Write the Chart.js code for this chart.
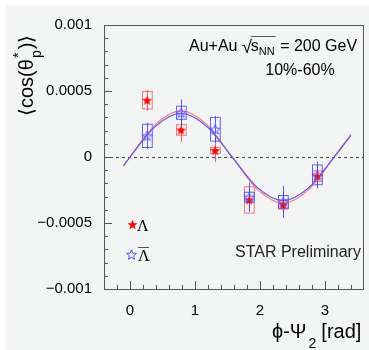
<!DOCTYPE html>
<html>
<head>
<meta charset="utf-8">
<script src="https://cdn.jsdelivr.net/npm/chart.js@4.4.1/dist/chart.umd.min.js"></script>
<style>
  html, body { margin: 0; padding: 0; background: #fff; }
  canvas { display: block; }
</style>
</head>
<body>
<canvas id="c" width="369" height="350"></canvas>
<script>
// phi - Psi2 bin centres [rad]
const phiBins = [0.262, 0.785, 1.309, 1.833, 2.356, 2.880]

// Lambda
const lamVal  = [0.00043, 0.000205, 0.00005, -0.000325, -0.00036, -0.000145]
const lamStat = [0.00008, 0.00009, 0.00009, 0.00009, 0.0001, 0.00009]
const lamSys  = [0.000066, 0.00004, 0.000024, 0.0001, 0.000035, 0.00004]

// anti-Lambda
const alamVal  = [0.00016, 0.000335, 0.00021, -0.000305, -0.00034, -0.000135]
const alamStat = [0.0001, 0.0001, 0.0001, 0.00011, 0.00012, 0.0001]
const alamSys  = [0.000088, 0.00005, 0.00009, 0.000038, 0.000048, 0.000075]

// fit curves
const fitX     = [-0.1, 0, 0.393, 0.785, 1.178, 1.571, 1.963, 2.356, 2.749, 3.142, 3.4]
const fitLam   = [-0.00007, 0, 0.000247, 0.00035, 0.000247, 0, -0.000247, -0.00035, -0.000247, 0, 0.000172]
const fitAlam  = [-0.000065, 0, 0.000233, 0.00033, 0.000233, 0, -0.000233, -0.00033, -0.000233, 0, 0.000163]

// axes
const xTickVals   = [0, 1, 2, 3]
const xTickLabels = ['0', '1', '2', '3']
const yTickVals   = [-0.001, -0.0005, 0, 0.0005, 0.001]
const yTickLabels = ['\u22120.001', '\u22120.0005', '0', '0.0005', '0.001']

const sysHalfWidth = 0.075

function makeStar(fill, stroke) {
    let c = document.createElement('canvas')
    c.width = 13
    c.height = 13
    let g = c.getContext('2d')
    g.beginPath()
    for (let i = 0; i < 10; i++) {
        let r = i % 2 ? 2.2 : 5.3
        let a = -Math.PI / 2 + i * Math.PI / 5
        let px = 6.5 + r * Math.cos(a), py = 7 + r * Math.sin(a)
        if (i) g.lineTo(px, py)
        else g.moveTo(px, py)
    }
    g.closePath()
    if (fill) { g.fillStyle = fill; g.fill() }
    if (stroke) { g.strokeStyle = stroke; g.lineWidth = 1; g.stroke() }
    return c
}

const redStar = makeStar('#f00', null)
const blueStar = makeStar(null, '#55f')

const FONT = "'Liberation Sans', Arial, sans-serif"

const decor = {
    id: 'decor',
    beforeDraw(chart) {
        const ctx = chart.ctx
        ctx.save()
        ctx.fillStyle = '#fff'
        ctx.fillRect(0, 0, 369, 350)
        ctx.fillStyle = '#f3f5f5'
        ctx.fillRect(5, 5, 364, 345)
        ctx.restore()
    },
    beforeDatasetsDraw(chart) {
        const ctx = chart.ctx
        const xs = chart.scales.x, ys = chart.scales.y
        const a = chart.chartArea
        ctx.save()
        // zero line
        ctx.strokeStyle = '#444'
        ctx.lineWidth = 1
        ctx.setLineDash([3, 3])
        ctx.beginPath()
        ctx.moveTo(a.left, Math.round(ys.getPixelForValue(0)) + 0.5)
        ctx.lineTo(a.right, Math.round(ys.getPixelForValue(0)) + 0.5)
        ctx.stroke()
        ctx.setLineDash([])

        function drawSet(vals, stat, sys, boxCol, barCol) {
            for (let i = 0; i < phiBins.length; i++) {
                let x1 = xs.getPixelForValue(phiBins[i] - sysHalfWidth)
                let x2 = xs.getPixelForValue(phiBins[i] + sysHalfWidth)
                let y1 = ys.getPixelForValue(vals[i] + sys[i])
                let y2 = ys.getPixelForValue(vals[i] - sys[i])
                ctx.strokeStyle = boxCol
                ctx.lineWidth = 1
                ctx.strokeRect(Math.round(x1) + 0.5, y1, x2 - x1, y2 - y1)
                let xc = Math.round(xs.getPixelForValue(phiBins[i])) + 0.5
                ctx.strokeStyle = barCol
                ctx.beginPath()
                ctx.moveTo(xc, ys.getPixelForValue(vals[i] + stat[i]))
                ctx.lineTo(xc, ys.getPixelForValue(vals[i] - stat[i]))
                ctx.stroke()
            }
        }
        drawSet(lamVal, lamStat, lamSys, 'rgba(240,90,90,0.8)', 'rgba(240,60,60,0.8)')
        drawSet(alamVal, alamStat, alamSys, 'rgba(70,70,255,0.85)', 'rgba(60,60,255,0.85)')
        ctx.restore()
    },
    afterDraw(chart) {
        const ctx = chart.ctx
        const xs = chart.scales.x, ys = chart.scales.y
        const a = chart.chartArea
        ctx.save()
        // frame
        ctx.strokeStyle = '#555'
        ctx.lineWidth = 1
        ctx.strokeRect(a.left + 0.5, a.top + 0.5, a.right - a.left - 1, a.bottom - a.top)
        // y ticks
        ctx.beginPath()
        for (let k = -10; k <= 10; k++) {
            let y = Math.round(ys.getPixelForValue(k * 0.0001)) + 0.5
            let len = k % 5 === 0 ? 8 : 4
            ctx.moveTo(a.left, y)
            ctx.lineTo(a.left + len, y)
        }
        // x ticks
        for (let k = -2; k <= 17; k++) {
            let x = Math.round(xs.getPixelForValue(k * 0.2)) + 0.5
            let len = k % 5 === 0 ? 8 : 4
            ctx.moveTo(x, a.bottom)
            ctx.lineTo(x, a.bottom - len)
        }
        ctx.stroke()

        ctx.fillStyle = '#000'
        ctx.textBaseline = 'alphabetic'
        ctx.textAlign = 'left'

        // y title
        ctx.save()
        ctx.translate(33, 116)
        ctx.rotate(-Math.PI / 2)
        ctx.font = '20px ' + FONT
        let px = 0
        ctx.fillText('\u27E8cos(\u03B8', px, 0)
        px += ctx.measureText('\u27E8cos(\u03B8').width
        ctx.font = '14px ' + FONT
        ctx.fillText('p', px + 1, 8)
        ctx.fillText('*', px + 1, -10)
        px += ctx.measureText('p').width + 2
        ctx.font = '20px ' + FONT
        ctx.fillText(')\u27E9', px, 0)
        ctx.restore()

        // x title
        ctx.font = '20px ' + FONT
        let tx = 272
        ctx.fillText('\u03D5-\u03A8', tx, 338)
        tx += ctx.measureText('\u03D5-\u03A8').width + 2
        ctx.font = '14px ' + FONT
        ctx.fillText('2', tx, 348)
        tx += ctx.measureText('2').width + 5
        ctx.font = '20px ' + FONT
        ctx.fillText('[rad]', tx, 338)

        // energy label
        ctx.font = '16px ' + FONT
        tx = 189
        ctx.fillText('Au+Au', tx, 51)
        tx += ctx.measureText('Au+Au ').width
        ctx.font = '18px ' + FONT
        ctx.fillText('\u221A', tx, 53)
        tx += ctx.measureText('\u221A').width - 1
        let ovStart = tx
        ctx.font = '16px ' + FONT
        ctx.fillText('s', tx, 51)
        tx += ctx.measureText('s').width
        ctx.font = '11px ' + FONT
        ctx.fillText('NN', tx, 55)
        tx += ctx.measureText('NN').width + 1
        ctx.beginPath()
        ctx.moveTo(ovStart, 36.5)
        ctx.lineTo(tx, 36.5)
        ctx.stroke()
        ctx.font = '16px ' + FONT
        ctx.fillText(' = 200 GeV', tx, 51)

        ctx.textAlign = 'center'
        ctx.fillText('10%-60%', 300, 75)
        ctx.textAlign = 'left'
        ctx.fillStyle = '#222'
        ctx.fillText('STAR Preliminary', 235, 257)

        // legend
        ctx.fillStyle = '#000'
        ctx.drawImage(redStar, 126, 218)
        ctx.drawImage(blueStar, 125, 248)
        ctx.font = "16px 'Liberation Serif', serif"
        ctx.fillText('\u039B', 137, 231)
        ctx.fillText('\u039B', 138, 261)
        ctx.beginPath()
        ctx.moveTo(138, 247.5)
        ctx.lineTo(149, 247.5)
        ctx.stroke()
        ctx.restore()
    }
}

function pts(xv, yv) {
    return xv.map((x, i) => ({ x: x, y: yv[i] }))
}

new Chart(document.getElementById('c'), {
    type: 'scatter',
    data: {
        datasets: [
            {
                label: 'anti-Lambda',
                data: pts(phiBins, alamVal),
                pointStyle: blueStar,
                order: 0
            },
            {
                label: 'Lambda',
                data: pts(phiBins, lamVal),
                pointStyle: redStar,
                order: 1
            },
            {
                label: 'fit anti-Lambda',
                data: pts(fitX, fitAlam),
                showLine: true,
                pointRadius: 0,
                borderColor: 'rgba(90,80,240,0.9)',
                borderWidth: 1.2,
                cubicInterpolationMode: 'monotone',
                order: 2
            },
            {
                label: 'fit Lambda',
                data: pts(fitX, fitLam),
                showLine: true,
                pointRadius: 0,
                borderColor: 'rgba(250,110,110,0.9)',
                borderWidth: 1.2,
                cubicInterpolationMode: 'monotone',
                order: 3
            }
        ]
    },
    options: {
        responsive: false,
        animation: false,
        layout: { padding: { left: 5, top: 25, right: 1, bottom: 0 } },
        plugins: { legend: { display: false }, tooltip: { enabled: false } },
        scales: {
            x: {
                type: 'linear',
                min: -0.4,
                max: 3.6,
                grid: { display: false },
                border: { display: false },
                afterBuildTicks: s => { s.ticks = xTickVals.map(v => ({ value: v })) },
                afterFit: s => { s.height = 61 },
                ticks: {
                    autoSkip: false,
                    maxRotation: 0,
                    padding: 5,
                    color: '#000',
                    font: { family: FONT, size: 15 },
                    callback: (v, i) => xTickLabels[i]
                }
            },
            y: {
                min: -0.001,
                max: 0.001,
                grid: { display: false },
                border: { display: false },
                afterBuildTicks: s => { s.ticks = yTickVals.map(v => ({ value: v })) },
                afterFit: s => { s.width = 99 },
                ticks: {
                    autoSkip: false,
                    padding: 4,
                    color: '#000',
                    font: { family: FONT, size: 15 },
                    callback: (v, i) => yTickLabels[i]
                }
            }
        }
    },
    plugins: [decor]
})
</script>
</body>
</html>
